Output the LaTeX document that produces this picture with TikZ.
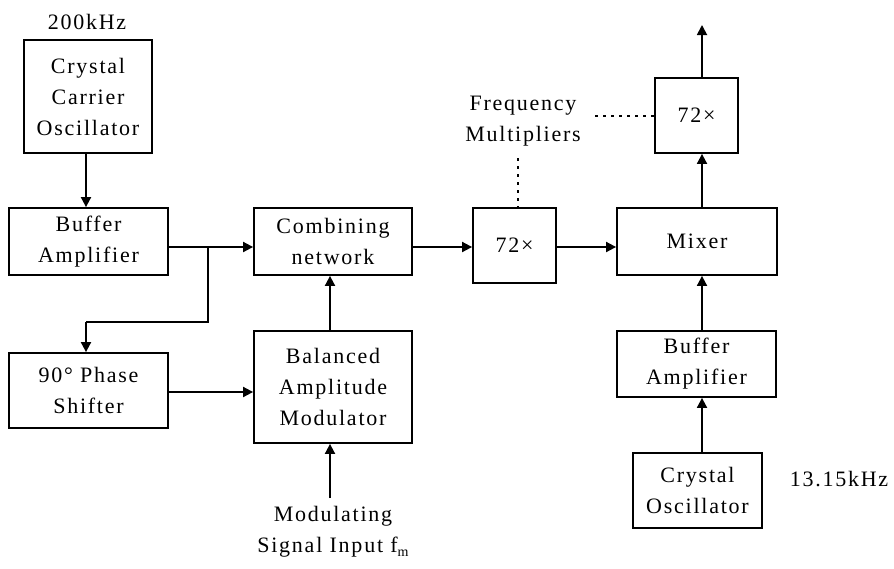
\documentclass[tikz,border=0pt]{standalone}
\usepackage{fontspec}
\setmainfont{Liberation Serif}[LetterSpace=8]
\usetikzlibrary{arrows.meta}

\begin{document}
\begin{tikzpicture}[x=1pt,y=-1pt,line width=1.8pt,
  >={Triangle[length=10pt,width=10pt]},
  txt/.style={font=\fontsize{22}{31}\selectfont},
  blk/.style={draw,rectangle,align=center,inner sep=0pt,txt},
  lbl/.style={align=center,inner sep=0pt,txt},
  dots/.style={line width=1.8pt,dash pattern=on 3pt off 5pt}]
\useasboundingbox (0,0) rectangle (894,568);

% blocks
\node[blk,minimum width=128pt,minimum height=113pt] (cco) at (88,96.5) {Crystal\\Carrier\\Oscillator};
\node[blk,minimum width=159pt,minimum height=67pt] (buf1) at (88.5,241.5) {Buffer\\Amplifier};
\node[blk,minimum width=159pt,minimum height=75pt] (ps) at (88.5,390.5) {90° Phase\\Shifter};
\node[blk,minimum width=158pt,minimum height=67pt] (comb) at (333,241.5) {Combining\\network};
\node[blk,minimum width=158pt,minimum height=112pt] (bal) at (333,387) {Balanced\\Amplitude\\Modulator};
\node[blk,minimum width=83pt,minimum height=75pt] (mul1) at (514.5,245.5) {72×};
\node[blk,minimum width=160pt,minimum height=67pt] (mix) at (697,241.5) {Mixer};
\node[blk,minimum width=83pt,minimum height=75pt] (mul2) at (696.5,115.5) {72×};
\node[blk,minimum width=159pt,minimum height=66pt] (buf2) at (696.5,364) {Buffer\\Amplifier};
\node[blk,minimum width=129pt,minimum height=75pt] (co) at (697.5,490.5) {Crystal\\Oscillator};

% labels
\node[lbl] (f1) at (87,22) {200kHz};
\node[lbl] (fm) at (523,121) {Frequency\\Multipliers};
\node[lbl] (mod) at (333,532) {Modulating\\Signal Input f\raisebox{-0.35ex}{\fontsize{14}{14}\selectfont m}};
\node[lbl] (f2) at (839,479) {13.15kHz};

% connector points
\coordinate (j) at (208,247);
\coordinate (jb) at (208,322);
\coordinate (ph) at (0,392);
\coordinate (lead) at (518,0);
\coordinate (modin) at (330,498);
\coordinate (out) at (702,25);

% signal paths
\draw[->] (cco.south -| 86,0) -- (buf1.north -| 86,0);
\draw (buf1.east |- j) -- (j);
\draw[->] (j) -- (comb.west |- j);
\draw (j) -- (jb) -- (jb -| 86,0) coordinate (jc);
\draw[->] (jc) -- (ps.north -| jc);
\draw[->] (ps.east |- ph) -- (bal.west |- ph);
\draw[->] (bal.north -| modin) -- (comb.south -| modin);
\draw[->] (modin) -- (bal.south -| modin);
\draw[->] (comb.east |- j) -- (mul1.west |- j);
\draw[->] (mul1.east |- j) -- (mix.west |- j);
\draw[->] (co.north -| out) -- (buf2.south -| out);
\draw[->] (buf2.north -| out) -- (mix.south -| out);
\draw[->] (mix.north -| out) -- (mul2.south -| out);
\draw[->] (mul2.north -| out) -- (out);

% annotation leaders
\draw[dots] (lead |- 0,158) -- (mul1.north -| lead);
\draw[dots] (595,116) -- (mul2.west |- 0,116);
\end{tikzpicture}
\end{document}
